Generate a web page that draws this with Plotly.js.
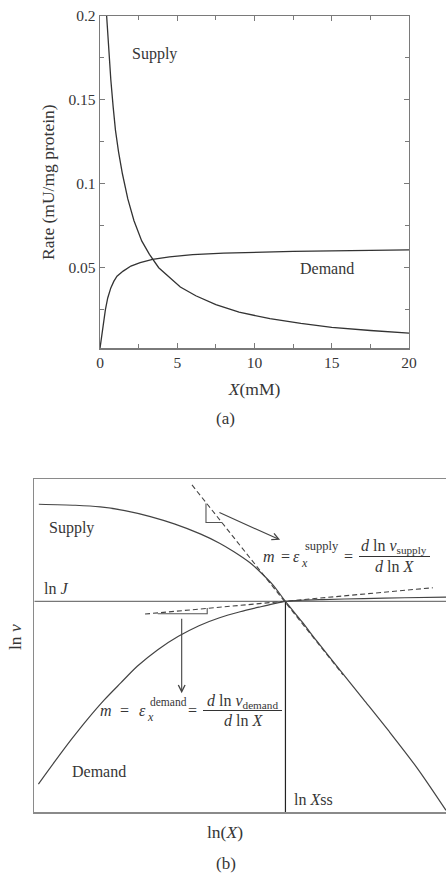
<!DOCTYPE html>
<html>
<head>
<meta charset="utf-8">
<script src="https://cdn.plot.ly/plotly-3.0.1.min.js"></script>
<style>
  html, body { margin: 0; padding: 0; background: #ffffff; }
  #chart { width: 446px; height: 874px; }
</style>
</head>
<body>
<div id="chart"></div>
<script>
// ---------- Panel (a): supply and demand rates against X (mM) ----------
const supplyX    = [0.43, 0.55, 0.7, 0.85, 1.0, 1.2, 1.45, 1.8, 2.2, 2.7, 3.2, 3.8, 4.5, 5.2, 6.2, 7.5, 9, 11, 13, 15, 17.5, 20];
const supplyRate = [0.2, 0.182, 0.162, 0.146, 0.132, 0.119, 0.106, 0.091, 0.078, 0.066, 0.058, 0.05, 0.0443, 0.0385, 0.0333, 0.028, 0.0235, 0.0197, 0.0168, 0.0145, 0.0126, 0.011];
const demandX    = [0, 0.1, 0.2, 0.35, 0.5, 0.7, 0.9, 1.1, 1.5, 2.0, 2.6, 3.4, 4.5, 6, 8, 10, 12.5, 15, 17.5, 20];
const demandRate = [0.002, 0.009, 0.015, 0.025, 0.032, 0.038, 0.042, 0.045, 0.048, 0.051, 0.053, 0.055, 0.0565, 0.0578, 0.0587, 0.0593, 0.0597, 0.06, 0.0603, 0.0606];
const xTicksA = [0, 5, 10, 15, 20];
const yTicksA = [0.05, 0.1, 0.15, 0.2];
const yTickTextA = ['0.05', '0.1', '0.15', '0.2'];

// ---------- Panel (b): log-log schematic ----------
const lnXSupply = [0.11, 1.0, 1.6, 2.2, 2.82, 3.4, 4.03, 4.5, 4.84, 5.24, 5.5, 5.8, 6.1, 6.5, 6.86, 7.43, 8.0, 8.6, 9.3, 10];
const lnVSupply = [9.25, 9.22, 9.17, 9.06, 8.88, 8.66, 8.36, 8.08, 7.83, 7.49, 7.2, 6.82, 6.33, 5.72, 5.14, 4.26, 3.38, 2.45, 1.32, 0.05];
const lnXDemand = [0.1, 0.5, 0.9, 1.3, 1.7, 2.1, 2.5, 3.0, 3.5, 4.0, 4.5, 5.0, 5.5, 5.8, 6.1, 6.5, 7, 8, 9, 10];
const lnVDemand = [0.84, 1.52, 2.18, 2.8, 3.37, 3.88, 4.38, 4.88, 5.28, 5.6, 5.84, 6.02, 6.17, 6.255, 6.33, 6.365, 6.385, 6.415, 6.44, 6.46];
const lnJ = 6.33;
const lnXss = 6.1;
const lnXRange = [0, 10];
const lnVRange = [0, 10];
const supplyTangentX = [3.83, 7.5];
const supplyTangentY = [9.83, 4.12];
const demandTangentX = [2.69, 9.68];
const demandTangentY = [5.95, 6.74];
const supplyTriX = [4.17, 4.17, 4.56];
const supplyTriY = [9.27, 8.7, 8.7];
const demandTriX = [3.0, 4.2, 4.2];
const demandTriY = [5.96, 5.96, 6.13];
const supplyArrow = { tail: [4.46, 9.02], head: [5.97, 8.18] };
const demandArrow = { tail: [3.58, 5.85], head: [3.58, 3.57] };

const W = 446, H = 874;
const FONT = 'Liberation Serif, Times New Roman, serif';
const INK = '#363636';
const px = v => v / W;
const py = v => 1 - v / H;

const traces = [
  { x: supplyX, y: supplyRate, xaxis: 'x', yaxis: 'y', mode: 'lines',
    line: { color: '#333', width: 1.3 }, hoverinfo: 'skip' },
  { x: demandX, y: demandRate, xaxis: 'x', yaxis: 'y', mode: 'lines',
    line: { color: '#333', width: 1.3 }, hoverinfo: 'skip' },

  { x: lnXRange, y: [lnJ, lnJ], xaxis: 'x2', yaxis: 'y2', mode: 'lines',
    line: { color: '#777', width: 1.3 }, hoverinfo: 'skip' },
  { x: [lnXss, lnXss], y: [lnVRange[0], lnJ], xaxis: 'x2', yaxis: 'y2', mode: 'lines',
    line: { color: '#222', width: 1.2 }, hoverinfo: 'skip' },
  { x: lnXSupply, y: lnVSupply, xaxis: 'x2', yaxis: 'y2', mode: 'lines',
    line: { color: '#444', width: 1.2, shape: 'spline', smoothing: 0.8 }, hoverinfo: 'skip' },
  { x: lnXDemand, y: lnVDemand, xaxis: 'x2', yaxis: 'y2', mode: 'lines',
    line: { color: '#444', width: 1.2, shape: 'spline', smoothing: 0.8 }, hoverinfo: 'skip' },
  { x: supplyTangentX, y: supplyTangentY, xaxis: 'x2', yaxis: 'y2', mode: 'lines',
    line: { color: '#444', width: 1.1, dash: '5px,3px' }, hoverinfo: 'skip' },
  { x: demandTangentX, y: demandTangentY, xaxis: 'x2', yaxis: 'y2', mode: 'lines',
    line: { color: '#444', width: 1.1, dash: '5px,3px' }, hoverinfo: 'skip' },
  { x: supplyTriX, y: supplyTriY, xaxis: 'x2', yaxis: 'y2', mode: 'lines',
    line: { color: '#555', width: 1.1 }, hoverinfo: 'skip' },
  { x: demandTriX, y: demandTriY, xaxis: 'x2', yaxis: 'y2', mode: 'lines',
    line: { color: '#555', width: 1.1 }, hoverinfo: 'skip' }
];

const axisA = {
  showline: true, linecolor: '#7a7a7a', linewidth: 1.3, mirror: 'ticks',
  ticks: 'inside', ticklen: 5, tickwidth: 1, tickcolor: '#7a7a7a',
  showgrid: false, zeroline: false,
  tickfont: { family: FONT, size: 15.5, color: INK }
};

const textAnn = (text, x, y, size, extra) => Object.assign({
  text: text, x: x, y: y, showarrow: false,
  font: { family: FONT, size: size || 16, color: INK },
  xanchor: 'center', yanchor: 'middle'
}, extra || {});
const paperAnn = (text, x, y, size, extra) =>
  textAnn(text, px(x), py(y), size, Object.assign({ xref: 'paper', yref: 'paper' }, extra || {}));

const annotations = [
  // panel (a) labels
  textAnn('Supply', 3.5, 0.1774, 16, { xref: 'x', yref: 'y' }),
  textAnn('Demand', 14.66, 0.0498, 16, { xref: 'x', yref: 'y' }),
  paperAnn('(a)', 225, 419, 17),

  // panel (b) labels and axis names
  textAnn('Supply', 0.9, 8.54, 16, { xref: 'x2', yref: 'y2' }),
  textAnn('ln <i>J</i>', 0.53, 6.73, 16, { xref: 'x2', yref: 'y2' }),
  textAnn('Demand', 1.56, 1.21, 16, { xref: 'x2', yref: 'y2' }),
  textAnn('ln <i>X</i>ss', 6.79, 0.38, 16, { xref: 'x2', yref: 'y2' }),
  paperAnn('ln(<i>X</i>)', 225, 832, 17.5),
  paperAnn('ln <i>v</i>', 15, 637, 17.5, { textangle: -90 }),
  paperAnn('(b)', 226, 863, 17),

  // supply elasticity formula
  paperAnn('<i>m</i>', 269, 556, 16),
  paperAnn('=', 285, 556, 16),
  paperAnn('<i>ε</i>', 296, 556, 16),
  paperAnn('<i>x</i>', 299, 563, 12, { xanchor: 'left' }),
  paperAnn('supply', 303, 546, 12.5, { xanchor: 'left' }),
  paperAnn('=', 348, 556, 16),
  paperAnn('<i>d</i> ln <i>v</i><sub>supply</sub>', 394, 546, 16),
  paperAnn('<i>d</i> ln <i>X</i>', 394, 566, 16),

  // demand elasticity formula
  paperAnn('<i>m</i>', 106, 710, 16),
  paperAnn('=', 125, 710, 16),
  paperAnn('<i>ε</i>', 142.5, 710, 16),
  paperAnn('<i>x</i>', 145, 717, 12, { xanchor: 'left' }),
  paperAnn('demand', 148, 702, 11.5, { xanchor: 'left' }),
  paperAnn('=', 192, 710, 16),
  paperAnn('<i>d</i> ln <i>v</i><sub>demand</sub>', 242.5, 701, 16),
  paperAnn('<i>d</i> ln <i>X</i>', 243, 720, 16),

  // arrows from the slope triangles to the formulas
  { xref: 'x2', yref: 'y2', axref: 'x2', ayref: 'y2', text: '', showarrow: true,
    x: supplyArrow.head[0], y: supplyArrow.head[1], ax: supplyArrow.tail[0], ay: supplyArrow.tail[1],
    arrowhead: 5, arrowsize: 1.2, arrowwidth: 1.1, arrowcolor: '#444' },
  { xref: 'x2', yref: 'y2', axref: 'x2', ayref: 'y2', text: '', showarrow: true,
    x: demandArrow.head[0], y: demandArrow.head[1], ax: demandArrow.tail[0], ay: demandArrow.tail[1],
    arrowhead: 5, arrowsize: 1.2, arrowwidth: 1.1, arrowcolor: '#444' }
];

// fraction bars of the two formulas
const shapes = [
  { type: 'line', xref: 'paper', yref: 'paper', x0: px(359), x1: px(430), y0: py(556.5), y1: py(556.5),
    line: { color: '#333', width: 1 } },
  { type: 'line', xref: 'paper', yref: 'paper', x0: px(203), x1: px(282), y0: py(710.5), y1: py(710.5),
    line: { color: '#333', width: 1 } }
];

const layout = {
  width: W, height: H,
  margin: { l: 0, r: 0, t: 0, b: 0, pad: 0 },
  paper_bgcolor: '#ffffff', plot_bgcolor: 'rgba(0,0,0,0)',
  showlegend: false,
  font: { family: FONT, color: INK },
  xaxis: Object.assign({}, axisA, {
    domain: [px(100), px(409)], range: [0, 20], anchor: 'y',
    tickmode: 'array', tickvals: xTicksA, ticktext: xTicksA.map(String),
    minor: { dtick: 2.5, tick0: 0, ticks: 'inside', ticklen: 4, tickcolor: '#7a7a7a', showgrid: false },
    title: { text: '<i>X</i>(mM)', font: { family: FONT, size: 17.5, color: INK }, standoff: 12 }
  }),
  yaxis: Object.assign({}, axisA, {
    domain: [py(348.3), py(16)], range: [0.002, 0.2], anchor: 'x',
    tickmode: 'array', tickvals: yTicksA, ticktext: yTickTextA,
    minor: { dtick: 0.025, tick0: 0, ticks: 'inside', ticklen: 4, tickcolor: '#7a7a7a', showgrid: false },
    title: { text: 'Rate (mU/mg protein)', font: { family: FONT, size: 17.5, color: INK }, standoff: 9 }
  }),
  xaxis2: {
    domain: [px(34.3), 1], range: lnXRange, anchor: 'y2',
    showline: true, linecolor: '#8a8a8a', linewidth: 1.5, mirror: true,
    ticks: '', showticklabels: false, showgrid: false, zeroline: false
  },
  yaxis2: {
    domain: [py(812), py(479.3)], range: lnVRange, anchor: 'x2',
    showline: true, linecolor: '#8a8a8a', linewidth: 1.5, mirror: false,
    ticks: '', showticklabels: false, showgrid: false, zeroline: false
  },
  annotations: annotations,
  shapes: shapes
};

Plotly.newPlot('chart', traces, layout, { staticPlot: true, displayModeBar: false });
</script>
</body>
</html>
